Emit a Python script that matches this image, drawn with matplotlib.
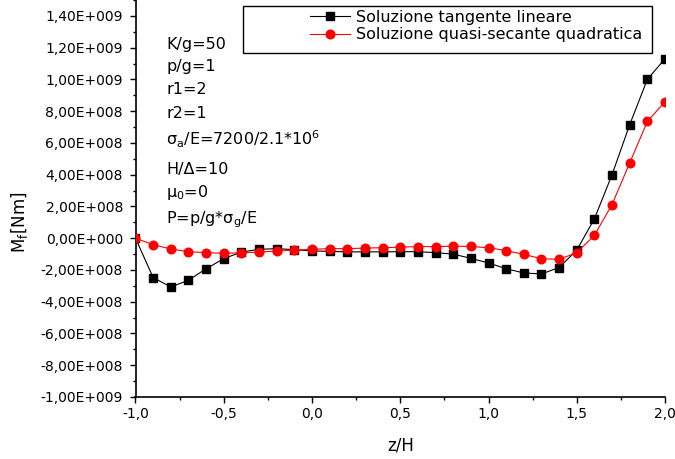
import matplotlib
matplotlib.use("Agg")
import matplotlib.pyplot as plt
from matplotlib.ticker import MultipleLocator, FuncFormatter
from matplotlib.patches import Rectangle

# --- dati ---
z_H = [-1.0, -0.9, -0.8, -0.7, -0.6, -0.5, -0.4, -0.3, -0.2, -0.1,
       0.0, 0.1, 0.2, 0.3, 0.4, 0.5, 0.6, 0.7, 0.8, 0.9,
       1.0, 1.1, 1.2, 1.3, 1.4, 1.5, 1.6, 1.7, 1.8, 1.9, 2.0]

mf_tangente = [0.0, -2.48e8, -3.07e8, -2.65e8, -1.92e8, -1.29e8, -0.87e8, -0.70e8, -0.66e8, -0.72e8,
               -0.80e8, -0.83e8, -0.86e8, -0.86e8, -0.86e8, -0.85e8, -0.85e8, -0.91e8, -1.00e8, -1.27e8,
               -1.56e8, -1.92e8, -2.19e8, -2.25e8, -1.85e8, -0.75e8, 1.22e8, 4.00e8, 7.15e8, 1.00e9, 1.13e9]

mf_quasi_secante = [0.0, -0.41e8, -0.68e8, -0.85e8, -0.91e8, -0.95e8, -0.92e8, -0.87e8, -0.81e8, -0.75e8,
                    -0.70e8, -0.66e8, -0.66e8, -0.62e8, -0.60e8, -0.56e8, -0.53e8, -0.53e8, -0.50e8, -0.52e8,
                    -0.60e8, -0.78e8, -1.02e8, -1.29e8, -1.33e8, -0.91e8, 0.18e8, 2.12e8, 4.74e8, 7.35e8, 8.60e8]

etichette_serie = ['Soluzione tangente lineare', 'Soluzione quasi-secante quadratica']

parametri = ['K/g=50', 'p/g=1', 'r1=2', 'r2=1',
             r'$\sigma_a$/E=7200/2.1*10$^6$', 'H/Δ=10', r'μ$_0$=0', r'P=p/g*$\sigma_g$/E']

# --- impostazioni ---
plt.rcParams['font.family'] = 'DejaVu Sans'
plt.rcParams['mathtext.default'] = 'regular'

W, H = 675, 459
fig = plt.figure(figsize=(W / 100, H / 100), dpi=100)
ax_l, ax_r, ax_b, ax_t = 135.5, 665.0, 397.0, 0.0
ax = fig.add_axes([ax_l / W, 1 - ax_b / H, (ax_r - ax_l) / W, (ax_b - ax_t) / H])

def px2ax(x, y):
    # pixel dell'immagine -> coordinate assi
    return (x - ax_l) / (ax_r - ax_l), (ax_b - y) / (ax_b - ax_t)

l1, = ax.plot(z_H, mf_tangente, color='black', lw=0.8, marker='s', ms=5.2,
              mfc='black', mec='black', label=etichette_serie[0], zorder=3)
l2, = ax.plot(z_H, mf_quasi_secante, color='red', lw=0.8, marker='o', ms=6.2,
              mfc='red', mec='red', label=etichette_serie[1], zorder=4)

ax.set_xlim(-1.0, 2.0)
ax.set_ylim(-1.0e9, 1.5e9)

ax.spines['top'].set_visible(False)
ax.spines['right'].set_visible(False)
ax.spines['left'].set_linewidth(1.2)
ax.spines['bottom'].set_linewidth(1.2)

ax.xaxis.set_major_locator(MultipleLocator(0.5))
ax.xaxis.set_minor_locator(MultipleLocator(0.25))
ax.yaxis.set_major_locator(MultipleLocator(2e8))
ax.yaxis.set_minor_locator(MultipleLocator(1e8))

def fmt_y(v, pos):
    if abs(v) < 1:
        return '0,00E+000'
    esp = int(f'{abs(v):e}'.split('e')[1])
    m = v / 10 ** esp
    return f'{m:.2f}'.replace('.', ',') + f'E+{esp:03d}'

ax.yaxis.set_major_formatter(FuncFormatter(fmt_y))
ax.xaxis.set_major_formatter(FuncFormatter(lambda v, p: f'{v:.1f}'.replace('.', ',')))

ax.tick_params(which='major', direction='out', length=4, width=1, labelsize=10, pad=3.5)
ax.tick_params(axis='y', which='major', pad=5)
ax.tick_params(which='minor', direction='out', length=2.3, width=1)

ax.set_xlabel('z/H', fontsize=12)
ax.set_ylabel(r'M$_f$[Nm]', fontsize=12)
ax.xaxis.set_label_coords(0.5, px2ax(0, 436)[1])
ax.yaxis.set_label_coords(px2ax(30, 0)[0], px2ax(0, 222)[1])

# riquadro della legenda (stile Origin, più largo del contenuto)
bx0, by0 = px2ax(243, 53)
bx1, by1 = px2ax(652, 6)
ax.add_patch(Rectangle((bx0, by0), bx1 - bx0, by1 - by0, transform=ax.transAxes,
                       fill=False, edgecolor='black', lw=1.0, zorder=5, clip_on=False))
lx, ly = px2ax(310, 10)
ax.legend(handles=[l1, l2], loc='upper left', bbox_to_anchor=(lx, ly), frameon=False,
          fontsize=11.5, borderpad=0, borderaxespad=0, handlelength=2.5,
          handletextpad=0.4, labelspacing=0.15)

# parametri del calcolo
base_y = [49, 71, 94, 117.5, 145, 174, 197.5, 223]
for testo, yb in zip(parametri, base_y):
    tx, ty = px2ax(166, yb)
    ax.text(tx, ty, testo, transform=ax.transAxes, fontsize=11.5, va='baseline', ha='left')

fig.savefig('out.png', dpi=100)
